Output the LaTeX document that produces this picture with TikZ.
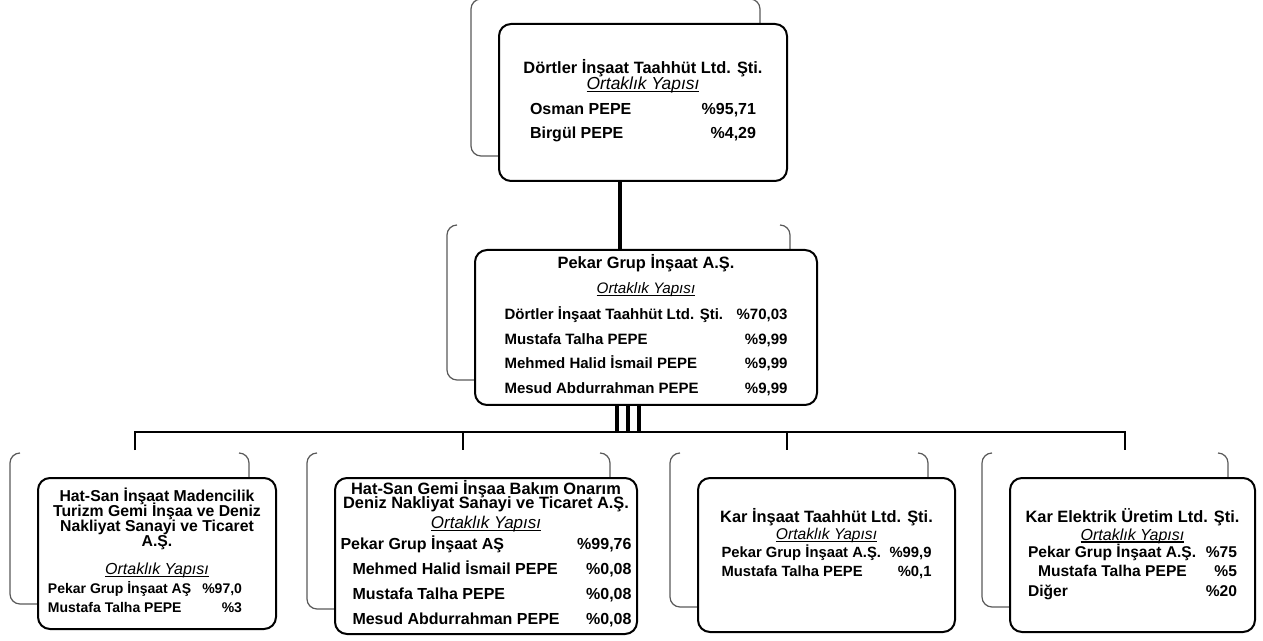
\documentclass[tikz,border=0pt]{standalone}
\usepackage{fontspec}
\setmainfont{Liberation Sans}
\usetikzlibrary{calc,backgrounds}
\newsavebox{\ulbox}
\newcommand{\ortak}[1][8]{{\fontsize{#1}{12}\selectfont\mdseries
  \sbox{\ulbox}{\textit{Ortaklık Yapısı}}\rlap{\rule[-1.2pt]{\wd\ulbox}{0.55pt}}\usebox{\ulbox}}}
\newcommand{\hisse}[4]{{\fontsize{#3}{12}\selectfont\renewcommand{\arraystretch}{#2}%
  \begin{tabular*}{#1}[t]{@{}l@{\extracolsep{\fill}}r@{}}#4\end{tabular*}}}
\newcommand{\backframe}[1]{%
  \draw[backline] ($(#1.north west)+(-17,-24)$) -- ($(#1.north west)+(-27,-24)$)
    -- ($(#1.south west)+(-27,-26)$) -- ($(#1.south west)+(0,-26)$);
  \draw[backline] ($(#1.north east)+(-38,-24)$) -- ($(#1.north east)+(-28,-24)$)
    -- ($(#1.north east)+(-28,0)$);}

\begin{document}
\begin{tikzpicture}[
    x=0.5pt, y=-0.5pt,
    orgbox/.style={draw, line width=1pt, rounded corners=6pt, fill=white,
                   align=center, inner sep=0pt,
                   font=\fontsize{8.2}{12}\selectfont\bfseries},
    backline/.style={black!65, line width=0.6pt, rounded corners=5pt},
    link/.style={line width=1.6pt},
    bus/.style={line width=1.1pt}
]
\useasboundingbox (0,0) rectangle (1263,641);

\node[orgbox, minimum width=144pt, minimum height=78.5pt] (dortler) at (643,102.5)
  {Dörtler İnşaat Taahhüt Ltd. Şti.\\[-4pt]
   \ortak[8.7]\\[0.5pt]
   \hisse{113pt}{1}{8}{Osman PEPE & \%95,71\\ Birgül PEPE & \%4,29}};

\node[orgbox, minimum width=171pt, minimum height=77.5pt] (pekar) at (646,327.5)
  {Pekar Grup İnşaat A.Ş.\\[0.5pt]
   \ortak[7.6]\\[1pt]
   \hisse{141.5pt}{1.025}{7.5}{Dörtler İnşaat Taahhüt Ltd. Şti. & \%70,03\\
     Mustafa Talha PEPE & \%9,99\\ Mehmed Halid İsmail PEPE & \%9,99\\
     Mesud Abdurrahman PEPE & \%9,99}};

\node[orgbox, minimum width=119pt, minimum height=75.5pt,
      font=\fontsize{7.9}{12}\selectfont\bfseries] (hatsan) at (157,553.5)
  {Hat-San İnşaat Madencilik\\[-4.5pt]
   Turizm Gemi İnşaa ve Deniz\\[-4.5pt]
   Nakliyat Sanayi ve Ticaret\\[-4.5pt]
   A.Ş.\\[2pt]
   \ortak\\[-2.5pt]
   \hspace*{-12pt}\hisse{97pt}{0.79}{7}{Pekar Grup İnşaat AŞ & \%97,0\\ Mustafa Talha PEPE & \%3}};

\node[orgbox, minimum width=151pt, minimum height=78pt] (hatsangemi) at (486,556)
  {Hat-San Gemi İnşaa Bakım Onarım\\[-5pt]
   Deniz Nakliyat Sanayi ve Ticaret A.Ş.\\[-2pt]
   \ortak[8.5]\\[-1.5pt]
   \hisse{145.5pt}{1.04}{8}{Pekar Grup İnşaat AŞ & \%99,76\\
     \hspace{6pt}Mehmed Halid İsmail PEPE & \%0,08\\
     \hspace{6pt}Mustafa Talha PEPE & \%0,08\\
     \hspace{6pt}Mesud Abdurrahman PEPE & \%0,08}};

\node[orgbox, minimum width=128.5pt, minimum height=77pt] (kar) at (826.5,555)
  {Kar İnşaat Taahhüt Ltd. Şti.\\[-3.5pt]
   \ortak[7.8]\\[-3pt]
   \hisse{105pt}{0.79}{7.4}{Pekar Grup İnşaat A.Ş. & \%99,9\\
     Mustafa Talha PEPE & \%0,1\\[10pt]}};

\node[orgbox, minimum width=122.5pt, minimum height=77pt] (karelektrik) at (1132.5,555)
  {Kar Elektrik Üretim Ltd. Şti.\\[-3pt]
   \ortak\\[-3.5pt]
   \hisse{104.5pt}{0.81}{7.8}{Pekar Grup İnşaat A.Ş. & \%75\\
     \hspace{5pt}Mustafa Talha PEPE & \%5\\ Diğer & \%20}};

\coordinate (busL) at (135,432);
\coordinate (busR) at (1125,432);
\coordinate (tick2) at (463,432);
\coordinate (tick3) at (787,432);

\draw[link] ([xshift=-11.5pt]dortler.south) -- ([xshift=-11.5pt]dortler.south |- pekar.north);
\draw[link] ([xshift=-14.5pt]pekar.south) -- ([xshift=-14.5pt]pekar.south |- busL);
\draw[link] ([xshift=-9pt]pekar.south) -- ([xshift=-9pt]pekar.south |- busL);
\draw[link] ([xshift=-3.5pt]pekar.south) -- ([xshift=-3.5pt]pekar.south |- busL);
\draw[bus] ($(busL)+(0,18)$) -- (busL) -- (busR) -- ++(0,18);
\draw[bus] (tick2) -- ++(0,18);
\draw[bus] (tick3) -- ++(0,18);

\begin{scope}[on background layer]
\backframe{dortler}
\backframe{pekar}
\backframe{hatsan}
\backframe{hatsangemi}
\backframe{kar}
\backframe{karelektrik}
\end{scope}

\end{tikzpicture}
\end{document}
